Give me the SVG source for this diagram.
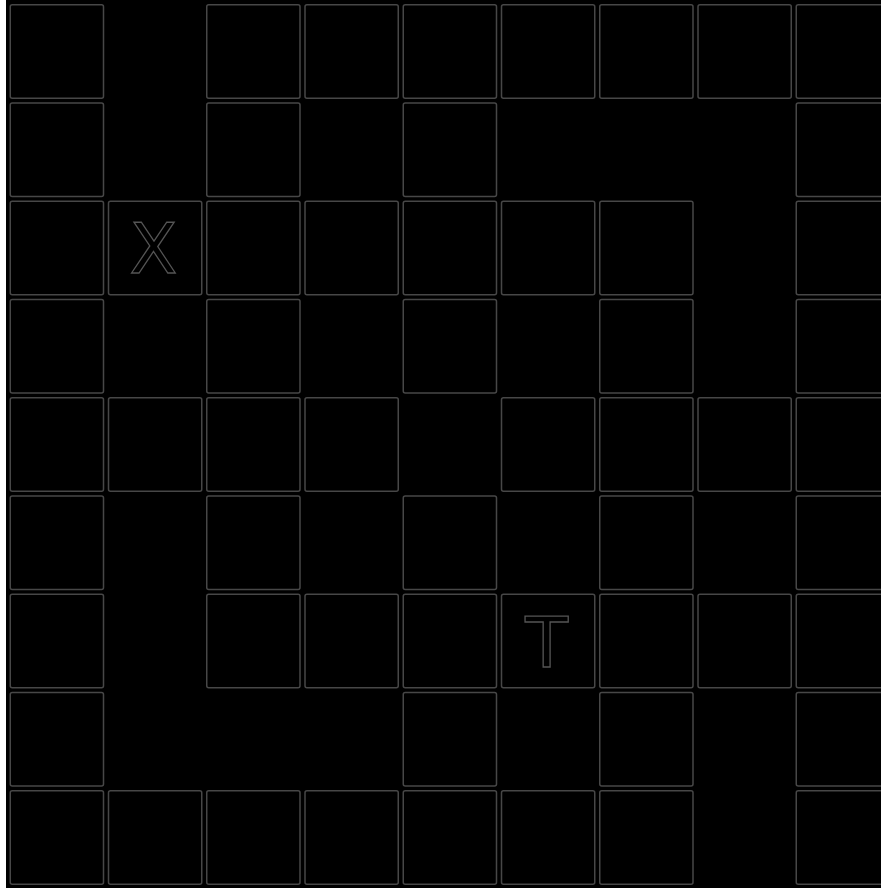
<svg xmlns="http://www.w3.org/2000/svg" width="881" height="888" viewBox="0 0 881 888">
<style>
.c{fill:#000;stroke:#474747;stroke-width:1.5}
.t{fill:none;stroke:#555;stroke-width:1.3;font-family:"DejaVu Sans","Liberation Sans",sans-serif;font-size:70px;text-anchor:middle}
</style>
<defs><rect id="cell" class="c" width="93.25" height="93.5" rx="2"/></defs>
<rect x="0" y="0" width="881" height="888" fill="#000"/>
<rect x="0" y="0" width="6" height="888" fill="#fff"/>
<g id="row0">
<use href="#cell" x="10.25" y="4.75"/><use href="#cell" x="206.75" y="4.75"/><use href="#cell" x="305" y="4.75"/><use href="#cell" x="403.25" y="4.75"/><use href="#cell" x="501.5" y="4.75"/><use href="#cell" x="599.75" y="4.75"/><use href="#cell" x="698" y="4.75"/><use href="#cell" x="796.25" y="4.75"/>
</g>
<g id="row1">
<use href="#cell" x="10.25" y="103"/><use href="#cell" x="206.75" y="103"/><use href="#cell" x="403.25" y="103"/><use href="#cell" x="796.25" y="103"/>
</g>
<g id="row2">
<use href="#cell" x="10.25" y="201.25"/><use href="#cell" x="108.5" y="201.25"/><use href="#cell" x="206.75" y="201.25"/><use href="#cell" x="305" y="201.25"/><use href="#cell" x="403.25" y="201.25"/><use href="#cell" x="501.5" y="201.25"/><use href="#cell" x="599.75" y="201.25"/><use href="#cell" x="796.25" y="201.25"/>
</g>
<g id="row3">
<use href="#cell" x="10.25" y="299.5"/><use href="#cell" x="206.75" y="299.5"/><use href="#cell" x="403.25" y="299.5"/><use href="#cell" x="599.75" y="299.5"/><use href="#cell" x="796.25" y="299.5"/>
</g>
<g id="row4">
<use href="#cell" x="10.25" y="397.75"/><use href="#cell" x="108.5" y="397.75"/><use href="#cell" x="206.75" y="397.75"/><use href="#cell" x="305" y="397.75"/><use href="#cell" x="501.5" y="397.75"/><use href="#cell" x="599.75" y="397.75"/><use href="#cell" x="698" y="397.75"/><use href="#cell" x="796.25" y="397.75"/>
</g>
<g id="row5">
<use href="#cell" x="10.25" y="496"/><use href="#cell" x="206.75" y="496"/><use href="#cell" x="403.25" y="496"/><use href="#cell" x="599.75" y="496"/><use href="#cell" x="796.25" y="496"/>
</g>
<g id="row6">
<use href="#cell" x="10.25" y="594.25"/><use href="#cell" x="206.75" y="594.25"/><use href="#cell" x="305" y="594.25"/><use href="#cell" x="403.25" y="594.25"/><use href="#cell" x="501.5" y="594.25"/><use href="#cell" x="599.75" y="594.25"/><use href="#cell" x="698" y="594.25"/><use href="#cell" x="796.25" y="594.25"/>
</g>
<g id="row7">
<use href="#cell" x="10.25" y="692.5"/><use href="#cell" x="403.25" y="692.5"/><use href="#cell" x="599.75" y="692.5"/><use href="#cell" x="796.25" y="692.5"/>
</g>
<g id="row8">
<use href="#cell" x="10.25" y="790.75"/><use href="#cell" x="108.5" y="790.75"/><use href="#cell" x="206.75" y="790.75"/><use href="#cell" x="305" y="790.75"/><use href="#cell" x="403.25" y="790.75"/><use href="#cell" x="501.5" y="790.75"/><use href="#cell" x="599.75" y="790.75"/><use href="#cell" x="796.25" y="790.75"/>
</g>
<g id="labels">
<text class="t" x="153.5" y="272.5">X</text>
<text class="t" x="546.7" y="666.5">T</text>
</g>
<g id="connectors"/>
</svg>
